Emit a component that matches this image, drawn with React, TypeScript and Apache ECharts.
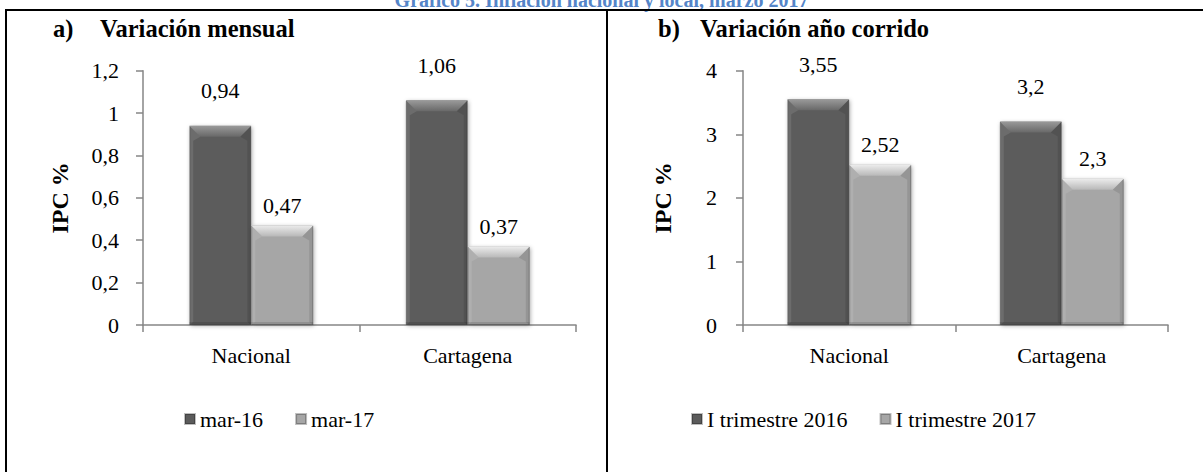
import React, { useEffect, useRef } from "react";
import * as echarts from "echarts";

const categories = ["Nacional", "Cartagena"];
const seriesNamesA = ["mar-16", "mar-17"];
const valuesA16 = [0.94, 1.06];
const valuesA17 = [0.47, 0.37];
const seriesNamesB = ["I trimestre 2016", "I trimestre 2017"];
const valuesB16 = [3.55, 3.2];
const valuesB17 = [2.52, 2.3];
const titleMain = "Gráfico 5. Inflación nacional y local, marzo 2017";
const panelA = ["a)", "Variación mensual"];
const panelB = ["b)", "Variación año corrido"];
const yName = "IPC %";

const FONT = "'Liberation Serif', 'Times New Roman', 'DejaVu Serif', serif";
const BAR_W = 62;
const DARK = "#5b5b5b";
const LIGHT = "#a6a6a6";

const fmt = (v: number) => String(+v.toFixed(2)).replace(".", ",");

function bevel(offset: number, topFrom: string, topTo: string) {
  return (params: any, api: any) => {
    const cat = api.value(0);
    const v = api.value(1);
    const top = api.coord([cat, v]);
    const base = api.coord([cat, 0]);
    const x0 = top[0] + offset * BAR_W;
    const x1 = x0 + BAR_W;
    const y0 = top[1];
    const yb = base[1];
    const t = Math.min(11, (yb - y0) / 2);
    return {
      type: "group",
      children: [
        {
          type: "polygon",
          shape: { points: [[x0, y0], [x1, y0], [x1 - t, y0 + t], [x0 + t, y0 + t]] },
          style: {
            fill: new echarts.graphic.LinearGradient(0, 0, 0, 1, [
              { offset: 0, color: topFrom },
              { offset: 1, color: topTo },
            ]),
          },
        },
        {
          type: "polygon",
          shape: { points: [[x0, y0], [x0 + t, y0 + t], [x0 + 4, y0 + t + 4], [x0 + 4, yb - 3], [x0, yb]] },
          style: { fill: "rgba(255,255,255,0.10)" },
        },
        {
          type: "polygon",
          shape: { points: [[x1, y0], [x1 - t, y0 + t], [x1 - 4, y0 + t + 4], [x1 - 4, yb - 3], [x1, yb]] },
          style: { fill: "rgba(0,0,0,0.10)" },
        },
        {
          type: "rect",
          shape: { x: x0, y: yb - 3, width: BAR_W, height: 3 },
          style: { fill: "rgba(0,0,0,0.12)" },
        },
      ],
    };
  };
}

export default function App() {
  const ref = useRef<HTMLDivElement>(null);
  useEffect(() => {
    document.body.style.margin = "0";
    const chart = echarts.init(ref.current!, null, { renderer: "svg" });
    const axisLineStyle = { color: "#868686", width: 1.5 };
    const xAxisCommon = {
      type: "category",
      data: categories,
      axisLine: { show: true, lineStyle: axisLineStyle },
      axisTick: { show: true, length: 7, lineStyle: axisLineStyle },
      axisLabel: { fontFamily: FONT, fontSize: 22, color: "#000", margin: 19 },
      splitLine: { show: false },
    };
    const yAxisCommon = {
      type: "value",
      min: 0,
      name: yName,
      nameLocation: "middle",
      nameRotate: 90,
      nameTextStyle: { fontFamily: FONT, fontSize: 24, fontWeight: "bold", color: "#000" },
      axisLine: { show: true, lineStyle: axisLineStyle },
      axisTick: { show: true, length: 7, lineStyle: axisLineStyle },
      splitLine: { show: false },
    };
    const labelCommon = { show: true, position: "top", fontFamily: FONT, fontSize: 22, color: "#000", formatter: (p: any) => fmt(p.value) };
    const barCommon = {
      type: "bar",
      barWidth: BAR_W,
      barGap: "0%",
      itemStyle: { borderColor: "rgba(0,0,0,0.25)", borderWidth: 1, shadowBlur: 4, shadowColor: "rgba(0,0,0,0.35)", shadowOffsetX: 1, shadowOffsetY: 1 },
    };
    const darkStyle = { ...barCommon.itemStyle, color: DARK };
    const lightStyle = { ...barCommon.itemStyle, color: LIGHT };
    const legendCommon = {
      orient: "horizontal",
      itemWidth: 10,
      itemHeight: 10,
      itemGap: 32,
      icon: "rect",
      textStyle: { fontFamily: FONT, fontSize: 22, color: "#000" },
      top: 403,
    };
    chart.setOption({
      animation: false,
      backgroundColor: "#fff",
      grid: [
        { left: 143, top: 70.7, width: 433, height: 254.3 },
        { left: 743, top: 70.7, width: 425, height: 254.3 },
      ],
      xAxis: [
        { ...xAxisCommon, gridIndex: 0 },
        { ...xAxisCommon, gridIndex: 1 },
      ],
      yAxis: [
        { ...yAxisCommon, gridIndex: 0, max: 1.2, interval: 0.2, nameGap: 71, axisLabel: { fontFamily: FONT, fontSize: 22, color: "#000", margin: 24, formatter: fmt } },
        { ...yAxisCommon, gridIndex: 1, max: 4, interval: 1, nameGap: 68, axisLabel: { fontFamily: FONT, fontSize: 22, color: "#000", margin: 26, formatter: fmt } },
      ],
      legend: [
        { ...legendCommon, left: 179, data: seriesNamesA },
        { ...legendCommon, left: 686, data: seriesNamesB },
      ],
      series: [
        { ...barCommon, name: seriesNamesA[0], xAxisIndex: 0, yAxisIndex: 0, data: valuesA16, itemStyle: darkStyle, label: { ...labelCommon, distance: 24 } },
        { ...barCommon, name: seriesNamesA[1], xAxisIndex: 0, yAxisIndex: 0, data: valuesA17, itemStyle: lightStyle, label: { ...labelCommon, distance: 9 } },
        { ...barCommon, name: seriesNamesB[0], xAxisIndex: 1, yAxisIndex: 1, data: valuesB16, itemStyle: darkStyle, label: { ...labelCommon, distance: 24 } },
        { ...barCommon, name: seriesNamesB[1], xAxisIndex: 1, yAxisIndex: 1, data: valuesB17, itemStyle: lightStyle, label: { ...labelCommon, distance: 9 } },
        { type: "custom", xAxisIndex: 0, yAxisIndex: 0, silent: true, z: 5, renderItem: bevel(-1, "#9a9a9a", "#686868"), data: valuesA16.map((v, i) => [i, v]) },
        { type: "custom", xAxisIndex: 0, yAxisIndex: 0, silent: true, z: 5, renderItem: bevel(0, "#ececec", "#b8b8b8"), data: valuesA17.map((v, i) => [i, v]) },
        { type: "custom", xAxisIndex: 1, yAxisIndex: 1, silent: true, z: 5, renderItem: bevel(-1, "#9a9a9a", "#686868"), data: valuesB16.map((v, i) => [i, v]) },
        { type: "custom", xAxisIndex: 1, yAxisIndex: 1, silent: true, z: 5, renderItem: bevel(0, "#ececec", "#b8b8b8"), data: valuesB17.map((v, i) => [i, v]) },
      ],
      graphic: [
        { type: "text", left: "center", top: -10, style: { text: titleMain, fontFamily: FONT, fontSize: 20, fontWeight: "bold", fill: "#5585c8" } },
        { type: "line", shape: { x1: 5, y1: 10, x2: 1203, y2: 10 }, style: { stroke: "#000", lineWidth: 2 } },
        { type: "line", shape: { x1: 6, y1: 10, x2: 6, y2: 472 }, style: { stroke: "#000", lineWidth: 2 } },
        { type: "line", shape: { x1: 607, y1: 10, x2: 607, y2: 472 }, style: { stroke: "#000", lineWidth: 2 } },
        { type: "text", x: 53, y: 28, style: { text: panelA[0], fontFamily: FONT, fontSize: 24.5, fontWeight: "bold", fill: "#000", verticalAlign: "middle" } },
        { type: "text", x: 100, y: 28, style: { text: panelA[1], fontFamily: FONT, fontSize: 24.5, fontWeight: "bold", fill: "#000", verticalAlign: "middle" } },
        { type: "text", x: 658, y: 28, style: { text: panelB[0], fontFamily: FONT, fontSize: 24.5, fontWeight: "bold", fill: "#000", verticalAlign: "middle" } },
        { type: "text", x: 700, y: 28, style: { text: panelB[1], fontFamily: FONT, fontSize: 24.5, fontWeight: "bold", fill: "#000", verticalAlign: "middle" } },
      ],
    });
    return () => chart.dispose();
  }, []);
  return <div ref={ref} style={{ width: 1203, height: 472 }} />;
}
